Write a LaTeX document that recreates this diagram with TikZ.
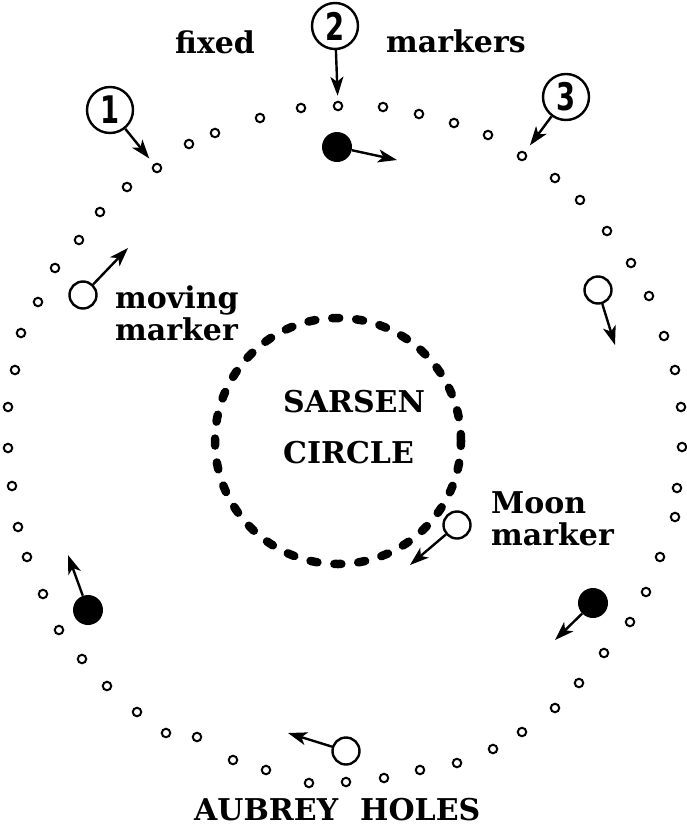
\documentclass[tikz,border=0pt]{standalone}
\usepackage{fontspec}
\usepackage{graphicx}
\setmainfont{DejaVu Serif}
\newfontfamily\numfont{DejaVu Sans Condensed}
\usetikzlibrary{arrows.meta}
\tikzset{
  hole/.style={circle, draw, line width=2pt, minimum size=8.5pt, inner sep=0pt},
  openmark/.style={circle, draw, line width=2.4pt, minimum size=27pt, inner sep=0pt, fill=white},
  fullmark/.style={circle, fill=black, minimum size=30pt, inner sep=0pt},
  numcirc/.style={circle, draw, line width=2.4pt, minimum size=46pt, inner sep=0pt, font=\numfont\bfseries\fontsize{38}{38}\selectfont},
  lbl/.style={anchor=base west, inner sep=0pt, font=\bfseries\fontsize{30}{32}\selectfont},
  arr/.style={line width=2.4pt, arrows={-Stealth[length=19pt,width=13pt,inset=5pt]}},
  sarsen/.style={circle, draw, line width=8.5pt, line cap=round, dash pattern=on 7pt off 17pt, minimum size=246pt, inner sep=0pt}
}
\begin{document}
\begin{tikzpicture}[x=1pt,y=-1pt]
\useasboundingbox (0,0) rectangle (687,827);
% Aubrey holes
\foreach \p [count=\i] in {(338,106),(301,108),(260,118),(215,133),(189,144),(157,168),(127,187),(100,212),(79,240),(55,268),(38,302),(21,333),(15,370),(8,407),(8,448),(12,486),(18,527),(27,557),(43,594),(59,630),(82,659),(107,686),(137,712),(166,733),(197,737),(233,760),(266,770),(309,783),(346,782),(384,778),(420,770),(457,763),(493,749),(522,732),(555,708),(579,683),(604,653),(630,622),(646,592),(660,557),(675,517),(677,488),(682,447),(681,407),(675,370),(664,336),(649,296),(631,263),(607,231),(580,200),(555,178),(522,156),(488,135),(454,123),(419,114),(383,107)}
  \node[hole] (h\i) at \p {};
% Sarsen circle
\node[sarsen] (sc) at (338,441) {};
\node[lbl] (t1) at (283,412) {SARSEN};
\node[lbl] (t2) at (283,463) {CIRCLE};
% labels
\node[lbl] (fx) at (175,53) {fixed};
\node[lbl] (mk) at (386,52) {markers};
\node[lbl] (mv) at (115,308) {moving};
\node[lbl] (mv2) at (115,340) {marker};
\node[lbl] (mn) at (491,513) {Moon};
\node[lbl] (mn2) at (491,545) {marker};
\node[lbl] (ah) at (194,820) {AUBREY\hspace{22pt}HOLES};
% numbered fixed markers
\node[numcirc] (c1) at (110,110) {\scalebox{0.8}[1]{1}};
\node[numcirc] (c2) at (335,26) {\scalebox{0.8}[1]{2}};
\node[numcirc] (c3) at (566,97) {\scalebox{0.8}[1]{3}};
\draw[arr, shorten >=7pt] (c1) -- (h6);
\draw[arr, shorten >=5pt] (c2) -- (h1);
\draw[arr, shorten >=8pt] (c3) -- (h52);
% moving markers
\node[fullmark] (d1) at (337,147) {};
\node[fullmark] (d2) at (88,610) {};
\node[fullmark] (d3) at (593,603) {};
\node[openmark] (o1) at (83,295) {};
\node[openmark] (o2) at (598,290) {};
\node[openmark] (o3) at (457,525) {};
\node[openmark] (o4) at (346,751) {};
\coordinate (e1) at (397,160);
\coordinate (e2) at (68,555);
\coordinate (e3) at (555,640);
\coordinate (e4) at (128,248);
\coordinate (e5) at (615,345);
\coordinate (e6) at (410,565);
\coordinate (e7) at (288,733);
\draw[arr] (d1) -- (e1);
\draw[arr] (d2) -- (e2);
\draw[arr] (d3) -- (e3);
\draw[arr] (o1) -- (e4);
\draw[arr] (o2) -- (e5);
\draw[arr] (o3) -- (e6);
\draw[arr] (o4) -- (e7);
\end{tikzpicture}
\end{document}
